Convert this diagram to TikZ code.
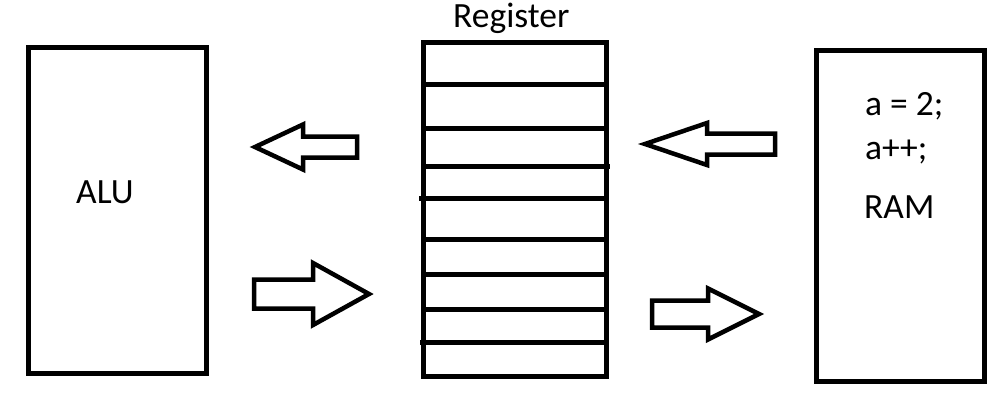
\documentclass[tikz,border=0pt]{standalone}
\usepackage{fontspec}
\setmainfont{Carlito}
\usetikzlibrary{positioning}

\begin{document}
\begin{tikzpicture}[
  x=1pt, y=-1pt,
  box/.style={draw, line width=5pt, rectangle, inner sep=0pt},
  lbl/.style={font=\fontsize{35.5}{42}\selectfont, inner sep=0pt, anchor=base west},
  cell/.style={line width=5pt},
  % hollow block arrow, tip at the origin, pointing left: length/head length/head half/shaft half
  pics/blockarr/.style args={#1/#2/#3/#4}{code={
    \draw[line width=4.5pt, line join=miter]
      (0,0) -- (#2,-#3) -- (#2,-#4) -- (#1,-#4) -- (#1,#4) -- (#2,#4) -- (#2,#3) -- cycle;
  }}
]
  \useasboundingbox (0,0) rectangle (1008,410);

  \node[box, minimum width=178pt, minimum height=325.5pt] (alu) at (117.5,210.25) {};
  \node[box, minimum width=182.5pt, minimum height=333.5pt] (reg) at (514.75,209.25) {};
  \node[box, minimum width=168.5pt, minimum height=331.5pt] (ram) at (900.25,215.75) {};

  \node[lbl] (alutxt) at (76,203) {ALU};
  \node[lbl] (regtxt) at (453,27) {Register};
  \node[lbl] (code1) at (865,115) {a = 2;};
  \node[lbl] (code2) at (865,159) {a++;};
  \node[lbl] (ramtxt) at (864,218) {RAM};

  % register cells
  \foreach \y in {84,128,239,274,309}
    \draw[cell] (reg.west |- 0,\y) -- (reg.east |- 0,\y);
  \draw[cell] (reg.west |- 0,166) -- (610,166);
  \draw[cell] (419,198) -- (reg.east |- 0,198);
  \draw[cell] (420,342) -- (reg.east |- 0,342);

  % data flow
  \pic at (255,147) {blockarr={102/48/22.5/10.5}};
  \pic[xscale=-1] at (369,294) {blockarr={115/56/31/14.5}};
  \pic at (645,144) {blockarr={130/62/21/10.5}};
  \pic[xscale=-1] at (759,314) {blockarr={107/51/25.5/13.5}};
\end{tikzpicture}
\end{document}
